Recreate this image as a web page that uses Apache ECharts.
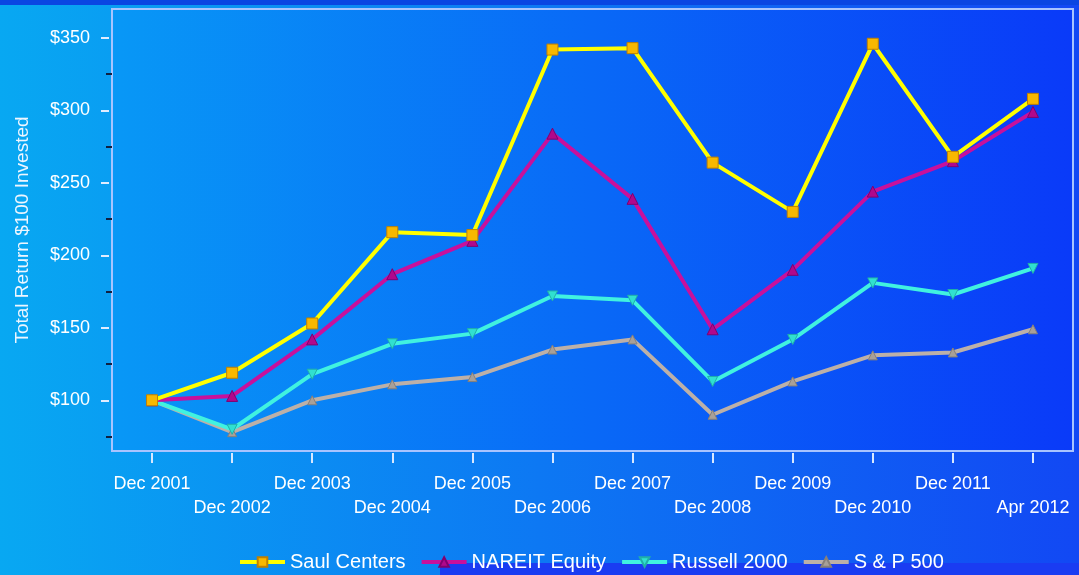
<!DOCTYPE html>
<html>
<head>
<meta charset="utf-8">
<script src="https://cdn.jsdelivr.net/npm/echarts@6/dist/echarts.min.js"></script>
<style>
html,body{margin:0;padding:0;}
#chart{width:1079px;height:575px;}
</style>
</head>
<body>
<div id="chart"></div>
<script>
const categories = ['Dec 2001','Dec 2002','Dec 2003','Dec 2004','Dec 2005','Dec 2006','Dec 2007','Dec 2008','Dec 2009','Dec 2010','Dec 2011','Apr 2012'];
const saulCenters = [100,119,153,216,214,342,343,264,230,346,268,308];
const nareitEquity = [100,103,142,187,210,284,239,149,190,244,265,299];
const russell2000 = [100,80,118,139,146,172,169,113,142,181,173,191];
const sp500 = [100,78,100,111,116,135,142,90,113,131,133,149];
const yLabelValues = [100,150,200,250,300,350];
const yMinorValues = [75,125,175,225,275,325];

const FONT = "'Liberation Sans', Arial, sans-serif";
const chart = echarts.init(document.getElementById('chart'));

function lg(c0, c1){
  return {type:'linear', x:0, y:0, x2:1, y2:0, colorStops:[{offset:0,color:c0},{offset:1,color:c1}]};
}

chart.setOption({
  animation:false,
  backgroundColor: lg('#08a8f2', '#1248f4'),
  textStyle:{fontFamily:FONT},
  graphic:[
    {type:'rect', shape:{x:0,y:0,width:1079,height:5}, style:{fill:'#0a46e2'}, z:-1},
    {type:'rect', shape:{x:440,y:563,width:639,height:12}, style:{fill:'#1a3cf2'}, z:-1}
  ],
  grid:{left:112, right:6, top:9, bottom:124, show:true,
        backgroundColor: lg('#0898f6', '#0a3af8'),
        borderColor:'#a8c4ff', borderWidth:2},
  legend:{
    left:233, top:547, itemWidth:45, itemHeight:12, itemGap:14,
    lineStyle:{width:4},
    textStyle:{color:'#ffffff', fontSize:20, fontFamily:FONT},
    data:['Saul Centers','NAREIT Equity','Russell 2000','S & P 500']
  },
  xAxis:{
    type:'category', data:categories, boundaryGap:true, offset:2,
    axisLine:{show:false},
    axisTick:{show:true, alignWithLabel:true, length:10, lineStyle:{color:'#d8e8ff', width:2}},
    axisLabel:{color:'#ffffff', fontSize:18, fontFamily:FONT, interval:0, margin:19, lineHeight:24,
      formatter:(v,i)=> (i%2 ? '\n'+v : v)}
  },
  yAxis:[
    {type:'value', min:65, max:370, offset:3, position:'left',
     name:'Total Return $100 Invested', nameLocation:'middle', nameGap:77, nameRotate:90,
     nameTextStyle:{color:'#eef6ff', fontSize:19, fontFamily:FONT},
     axisLine:{show:false}, splitLine:{show:false},
     axisTick:{show:true, length:8, customValues:yLabelValues, lineStyle:{color:'#e0ecff', width:2}},
     axisLabel:{color:'#ffffff', fontSize:18, fontFamily:FONT, margin:19, customValues:yLabelValues,
       formatter:v=>'$'+v}
    },
    {type:'value', min:65, max:370, offset:0, position:'left',
     axisLine:{show:false}, splitLine:{show:false},
     axisTick:{show:true, length:6, customValues:yMinorValues, lineStyle:{color:'#102040', width:2}},
     axisLabel:{show:false}
    }
  ],
  series:[
    {name:'S & P 500', type:'line', data:sp500, z:2,
     symbol:'triangle', symbolSize:9,
     lineStyle:{color:'#bcb0a8', width:4},
     itemStyle:{color:'#a8a098', borderColor:'#888078', borderWidth:1}},
    {name:'Russell 2000', type:'line', data:russell2000, z:3,
     symbol:'triangle', symbolRotate:180, symbolSize:10,
     lineStyle:{color:'#40f2e0', width:4},
     itemStyle:{color:'#30e0d0', borderColor:'#20b0a8', borderWidth:1}},
    {name:'NAREIT Equity', type:'line', data:nareitEquity, z:4,
     symbol:'triangle', symbolSize:11,
     lineStyle:{color:'#c8109c', width:4},
     itemStyle:{color:'#b0088c', borderColor:'#800070', borderWidth:1}},
    {name:'Saul Centers', type:'line', data:saulCenters, z:5,
     symbol:'rect', symbolSize:11,
     lineStyle:{color:'#ffff00', width:4},
     itemStyle:{color:'#f8b800', borderColor:'#c08000', borderWidth:1}}
  ]
});
</script>
</body>
</html>
